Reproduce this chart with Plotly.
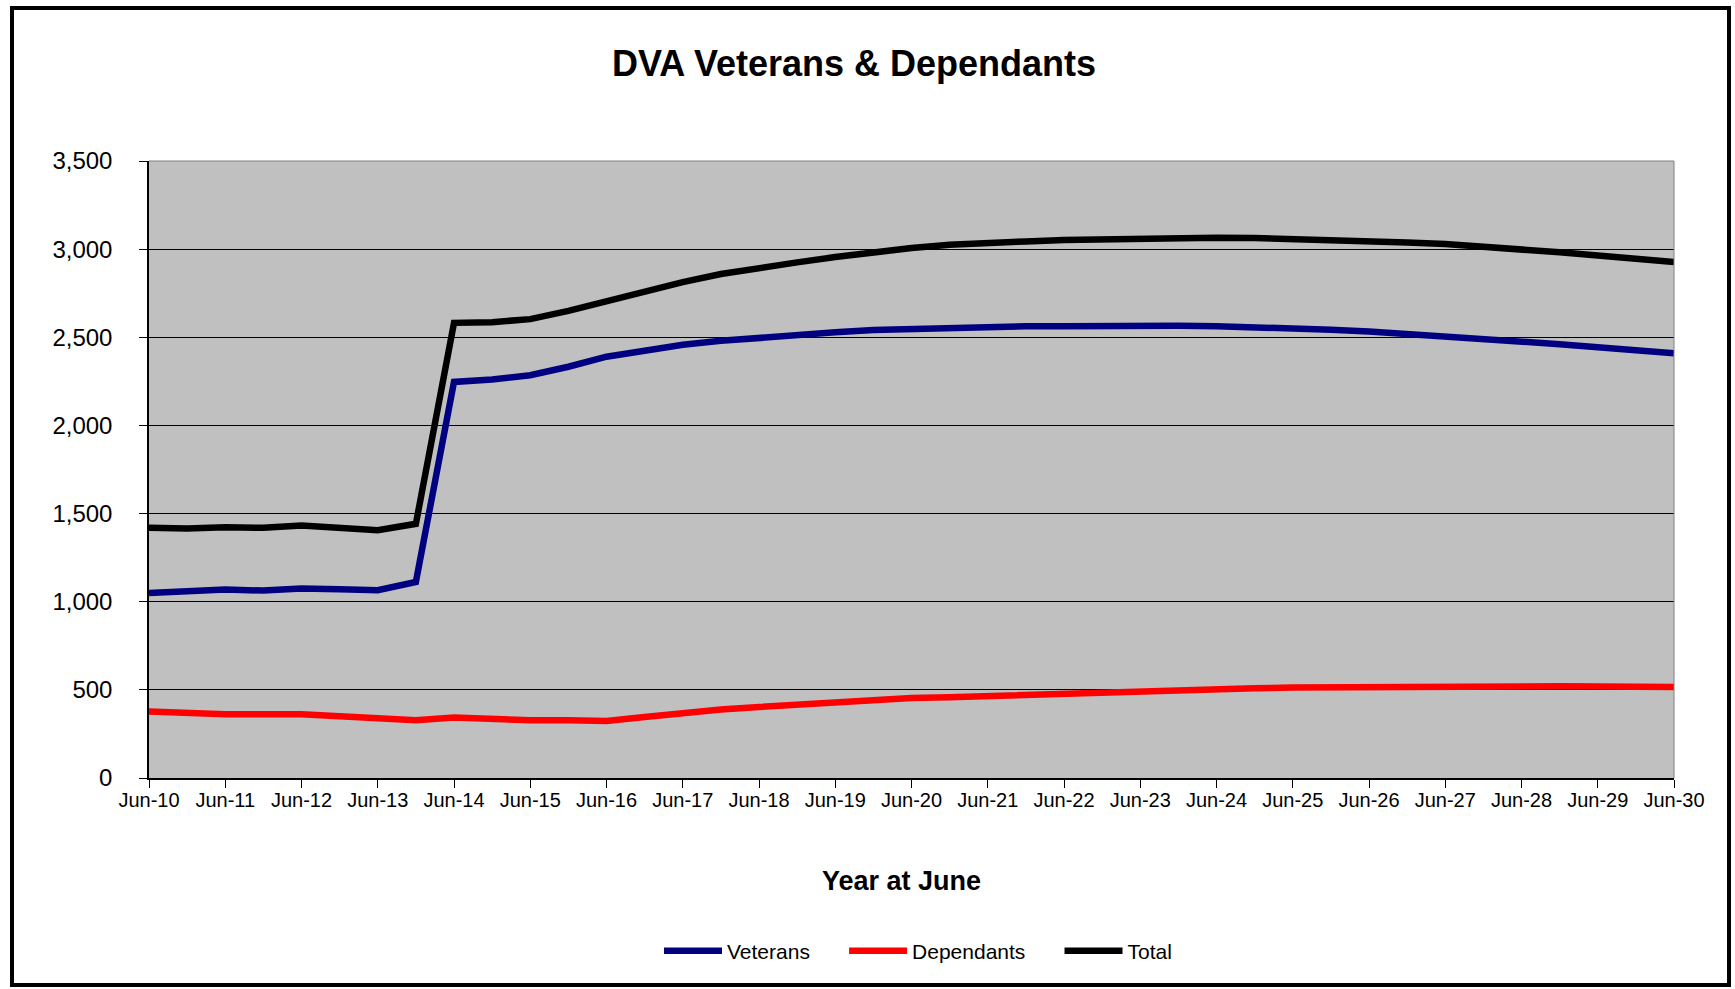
import plotly.graph_objects as go

years = list(range(10, 31))
categories = []
for y in years:
    categories.append(f"Jun-{y:02d}")
    if y != 30:
        categories.append(f"Dec-{y:02d}")

tick_labels = [f"Jun-{y:02d}" for y in years]

series_names = ["Veterans", "Dependants", "Total"]

veterans = [1050, 1060, 1069, 1063, 1075, 1071, 1065, 1112,
            2247, 2261, 2285, 2333, 2390, 2424, 2458, 2480, 2499, 2512, 2528, 2541, 2548, 2556, 2560,
            2562, 2563, 2567, 2566, 2566, 2563, 2558, 2550, 2543, 2533, 2520, 2507, 2492, 2477, 2461,
            2444, 2427, 2410]
dependants = [377, 365, 361, 361, 361, 350, 343, 327, 343, 331, 327, 327, 323, 346, 369, 388, 403,
              415, 432, 441, 454,
              458, 465, 473, 481, 488, 496, 501, 505, 509, 513, 515, 516, 519, 520, 520, 520, 520,
              519, 516, 516]
total = [1419, 1415, 1423, 1419, 1432, 1419, 1406, 1442,
         2582, 2586, 2603, 2650, 2705, 2762, 2813, 2859, 2895, 2925, 2955, 2982, 3006, 3025, 3039,
         3044, 3052, 3057, 3063, 3065, 3065, 3063, 3059, 3053, 3046, 3038, 3029, 3016, 3000, 2982,
         2964, 2945, 2927]

FONT = "Liberation Sans, Arial, sans-serif"
W, H = 1735, 989
L, R, T, B = 149, 1674, 161, 778
pw, ph = R - L, B - T

def px(x):
    return (x - L) / pw

def py(y):
    return (B - y) / ph

PAD = "\u00a0" * 5

fig = go.Figure()
colors = ["#000080", "#FF0000", "#000000"]
for i, (nm, vals) in enumerate(zip(series_names, [veterans, dependants, total])):
    label = nm + (PAD if i < 2 else "")
    fig.add_trace(go.Scatter(x=categories, y=vals, name=label, mode="lines",
                             line=dict(color=colors[i], width=6.5)))

fig.update_layout(
    width=W, height=H,
    margin=dict(l=L, r=W - R, t=T, b=H - B, pad=0),
    paper_bgcolor="white",
    plot_bgcolor="#C0C0C0",
    font=dict(family=FONT, color="black"),
    title=dict(text="<b>DVA Veterans & Dependants</b>", x=854 / W, xanchor="center",
               y=1 - 63 / H, yanchor="middle", font=dict(size=36, family=FONT)),
    showlegend=True,
    legend=dict(orientation="h", x=px(918), xanchor="center", y=py(951), yanchor="middle",
                font=dict(size=21, family=FONT), itemwidth=58, bgcolor="rgba(0,0,0,0)",
                traceorder="normal"),
    shapes=[
        dict(type="rect", xref="paper", yref="paper", x0=px(12), x1=px(1729), y0=py(8), y1=py(985),
             line=dict(color="black", width=4), fillcolor="rgba(0,0,0,0)", layer="above"),
        dict(type="line", xref="paper", yref="paper", x0=1, x1=1, y0=0, y1=1,
             line=dict(color="#808080", width=1)),
        dict(type="line", xref="paper", yref="paper", x0=0, x1=1, y0=1, y1=1,
             line=dict(color="#808080", width=1)),
    ],
    annotations=[
        dict(text="<b>Year at June</b>", xref="paper", yref="paper", x=px(901), y=py(881),
             xanchor="center", yanchor="middle", showarrow=False,
             font=dict(size=27, family=FONT, color="black")),
    ],
)

fig.update_xaxes(
    type="category", categoryorder="array", categoryarray=categories,
    range=[0, len(categories) - 1],
    tickmode="array", tickvals=tick_labels, ticktext=tick_labels,
    ticks="outside", ticklen=8, tickcolor="black", tickwidth=1,
    tickfont=dict(size=20, family=FONT), tickangle=0, ticklabelstandoff=-5,
    showgrid=False, showline=True, linecolor="black", linewidth=1.5, zeroline=False,
    automargin=False,
)
fig.update_yaxes(
    range=[0, 3500], dtick=500, tick0=0, tickformat=",",
    ticks="outside", ticklen=8, tickcolor="black", tickwidth=1,
    tickfont=dict(size=24, family=FONT), ticklabelstandoff=22,
    showgrid=True, gridcolor="black", gridwidth=1,
    showline=True, linecolor="black", linewidth=1.5, zeroline=False,
    automargin=False,
)

fig.write_html("out.html", config={"displayModeBar": False},
               post_script="document.body.style.margin='0';")
